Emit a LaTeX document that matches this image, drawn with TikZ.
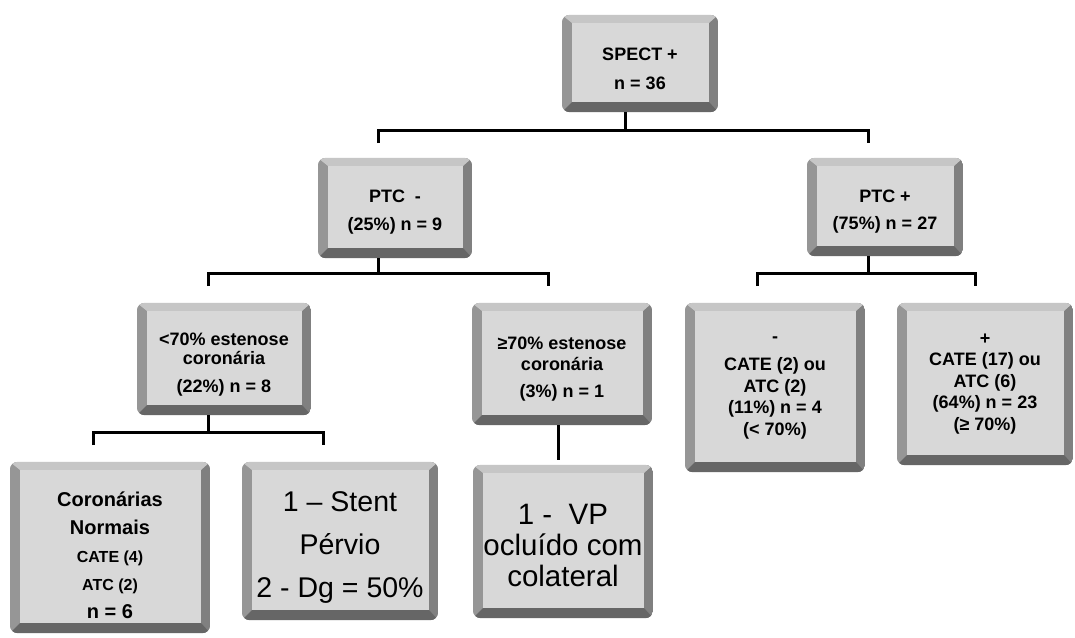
\documentclass[tikz,border=0pt]{standalone}
\usepackage{fontspec}
\setmainfont{Liberation Sans}
\usetikzlibrary{backgrounds}
\definecolor{gface}{RGB}{216,216,216}
\definecolor{gtop}{RGB}{198,198,198}
\definecolor{gleft}{RGB}{150,150,150}
\definecolor{gright}{RGB}{128,128,128}
\definecolor{gbot}{RGB}{102,102,102}
\newcommand\bevelbox[1]{%
  \begin{pgfonlayer}{background}
  \begin{scope}
    \clip[rounded corners=8pt] (#1.south west) rectangle (#1.north east);
    \fill[gleft] (#1.south west) rectangle (#1.north);
    \fill[gright] (#1.south) rectangle (#1.north east);
    \fill[gtop] (#1.north west) -- (#1.north east) -- ([shift={(-9pt,-8pt)}]#1.north east) -- ([shift={(10pt,-8pt)}]#1.north west) -- cycle;
    \fill[gbot] (#1.south west) -- (#1.south east) -- ([shift={(-9pt,10pt)}]#1.south east) -- ([shift={(10pt,10pt)}]#1.south west) -- cycle;
  \end{scope}
  \fill[gface] ([shift={(10pt,10pt)}]#1.south west) rectangle ([shift={(-9pt,-8pt)}]#1.north east);
  \end{pgfonlayer}}
% strut that pushes a node's text block down
\newcommand\dn[1]{\rule{0pt}{\dimexpr\fontcharht\font`(+#1\relax}}
\tikzset{
  bx/.style={inner sep=0pt, align=center, font=\bfseries\fontsize{18}{21}\selectfont},
  big/.style={inner sep=0pt, align=center},
  conn/.style={draw=black, line width=3pt}
}
\begin{document}
\begin{tikzpicture}[x=1pt,y=-1pt]
\useasboundingbox (0,0) rectangle (1075,637);
\begin{pgfonlayer}{background}
\fill[white] (0,0) rectangle (1075,637);
\end{pgfonlayer}
% level 0
\node[bx, font=\bfseries\fontsize{18}{29}\selectfont, minimum width=156pt, minimum height=97pt] (spect) at (640,63.5) {\dn{10pt}SPECT +\\n = 36};
% level 1
\node[bx, font=\bfseries\fontsize{18}{28}\selectfont, minimum width=154pt, minimum height=100pt] (ptcm) at (395,208) {\dn{9pt}PTC~~-\\(25\%) n = 9};
\node[bx, font=\bfseries\fontsize{18}{27}\selectfont, minimum width=156pt, minimum height=98pt] (ptcp) at (885,207) {\dn{10pt}PTC +\\(75\%) n = 27};
% level 2
\node[bx, font=\bfseries\fontsize{18}{19}\selectfont, minimum width=174pt, minimum height=112pt] (lt70) at (224,359) {\dn{12pt}<70\% estenose\\coronária\\[9pt](22\%) n = 8};
\node[bx, font=\bfseries\fontsize{18}{21}\selectfont, minimum width=180pt, minimum height=122pt] (ge70) at (562,364) {\dn{10pt}≥70\% estenose\\coronária\\[6pt](3\%) n = 1};
\node[bx, font=\bfseries\fontsize{18}{21.5}\selectfont, minimum width=180pt, minimum height=169pt] (neg) at (775,387.5) {-\\[7pt]CATE (2) ou\\ATC (2)\\(11\%) n = 4\\(< 70\%)};
\node[bx, font=\bfseries\fontsize{18}{21.5}\selectfont, minimum width=176pt, minimum height=162pt] (pos) at (985,384) {+\\CATE (17) ou\\ATC (6)\\(64\%) n = 23\\(≥ 70\%)};
% level 3
\node[bx, font=\bfseries\fontsize{20}{28}\selectfont, minimum width=200pt, minimum height=171pt] (corn) at (110,547.5) {\dn{16pt}Coronárias\\Normais\\{\fontsize{16}{28}\selectfont CATE (4)}\\{\fontsize{16}{28}\selectfont ATC (2)}\\n = 6};
\node[big, font=\fontsize{28.5}{43}\selectfont, minimum width=196pt, minimum height=158pt] (stent) at (340,541) {\dn{14pt}1 – Stent\\Pérvio\\2 - Dg = 50\%};
\node[big, font=\fontsize{29.5}{31}\selectfont, minimum width=180pt, minimum height=153pt] (vp) at (563,541.5) {\dn{8pt}1 -~~VP\\ocluído com\\colateral};
\foreach \n in {spect,ptcm,ptcp,lt70,ge70,neg,pos,corn,stent,vp} {\bevelbox{\n}}
% connectors
\coordinate (s1) at (625,130);
\coordinate (b1l) at (378,143);
\coordinate (b1r) at (868,143);
\draw[conn] (spect.south -| s1) -- (s1);
\draw[conn] (b1l) |- (s1) -| (b1r);
\coordinate (s2) at (378,273);
\coordinate (b2l) at (208,286);
\coordinate (b2r) at (548,286);
\draw[conn] (ptcm.south -| s2) -- (s2);
\draw[conn] (b2l) |- (s2) -| (b2r);
\coordinate (s3) at (868,273);
\coordinate (b3l) at (757,286);
\coordinate (b3r) at (975,286);
\draw[conn] (ptcp.south -| s3) -- (s3);
\draw[conn] (b3l) |- (s3) -| (b3r);
\coordinate (s4) at (208,432);
\coordinate (b4l) at (93,445);
\coordinate (b4r) at (323,445);
\draw[conn] (lt70.south -| s4) -- (s4);
\draw[conn] (b4l) |- (s4) -| (b4r);
\coordinate (s5) at (558,460);
\draw[conn, shorten >=5pt] (ge70.south -| s5) -- (vp.north -| s5);
\end{tikzpicture}
\end{document}
